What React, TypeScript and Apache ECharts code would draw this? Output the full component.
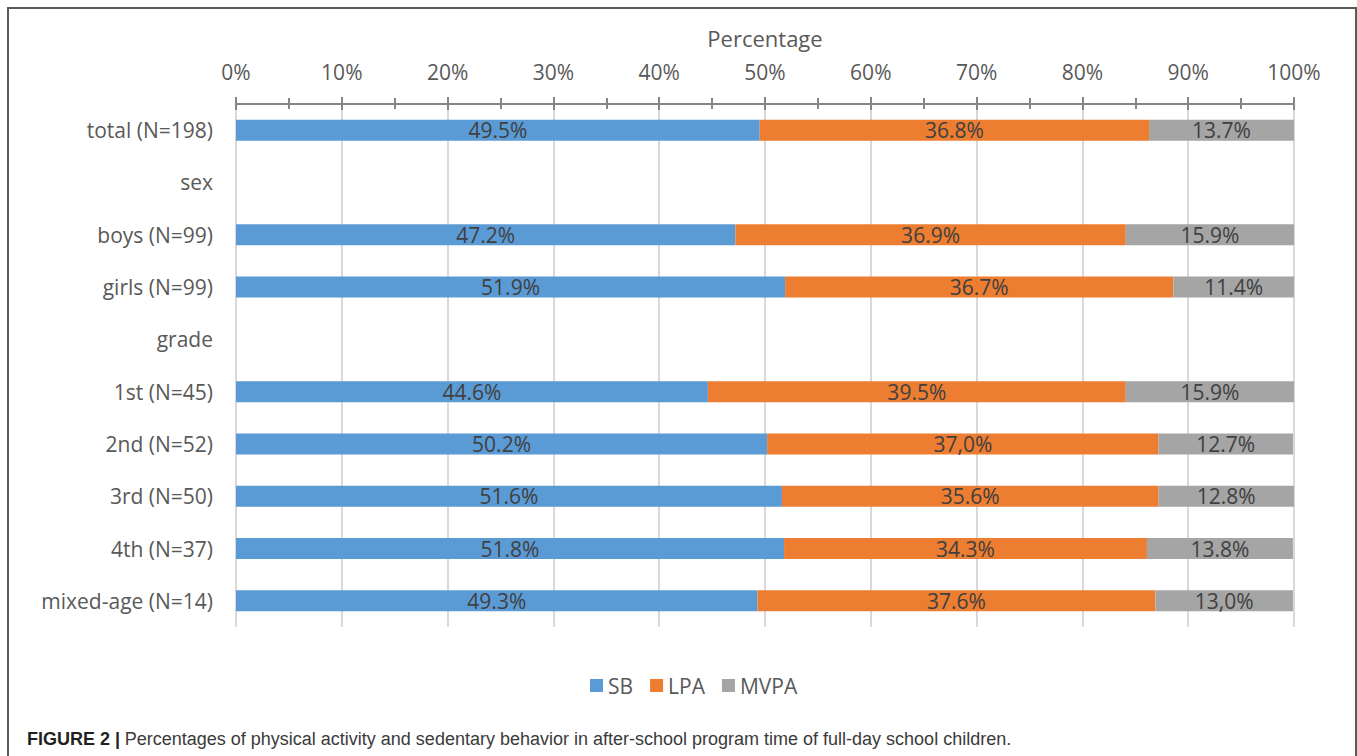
import React, { useEffect, useRef } from "react";
import * as echarts from "echarts";

const categories = [
  "total (N=198)",
  "sex",
  "boys (N=99)",
  "girls (N=99)",
  "grade",
  "1st (N=45)",
  "2nd (N=52)",
  "3rd (N=50)",
  "4th (N=37)",
  "mixed-age (N=14)",
];

const sbValues = [49.5, null, 47.2, 51.9, null, 44.6, 50.2, 51.6, 51.8, 49.3];
const lpaValues = [36.8, null, 36.9, 36.7, null, 39.5, 37.0, 35.6, 34.3, 37.6];
const mvpaValues = [13.7, null, 15.9, 11.4, null, 15.9, 12.7, 12.8, 13.8, 13.0];

const sbLabels = ["49.5%", "", "47.2%", "51.9%", "", "44.6%", "50.2%", "51.6%", "51.8%", "49.3%"];
const lpaLabels = ["36.8%", "", "36.9%", "36.7%", "", "39.5%", "37,0%", "35.6%", "34.3%", "37.6%"];
const mvpaLabels = ["13.7%", "", "15.9%", "11.4%", "", "15.9%", "12.7%", "12.8%", "13.8%", "13,0%"];

const seriesNames = ["SB", "LPA", "MVPA"];
const seriesColors = ["#5B9BD5", "#ED7D31", "#A5A5A5"];

const FONT = "'Open Sans', sans-serif";
const CAPTION_FONT = "'Liberation Sans', Arial, sans-serif";

export default function App() {
  const ref = useRef<HTMLDivElement>(null);

  useEffect(() => {
    if (!ref.current) return;
    const chart = echarts.init(ref.current, null, { renderer: "svg" });
    const values = [sbValues, lpaValues, mvpaValues];
    const labels = [sbLabels, lpaLabels, mvpaLabels];
    const axisBase = {
      type: "value" as const,
      position: "top" as const,
      min: 0,
      max: 100,
      interval: 10,
    };
    chart.setOption({
      animation: false,
      textStyle: { fontFamily: FONT },
      title: {
        left: 22,
        top: 725,
        text: "{b|FIGURE 2 |} {r|Percentages of physical activity and sedentary behavior in after-school program time of full-day school children.}",
        textStyle: {
          fontWeight: "normal",
          rich: {
            b: {
              fontFamily: CAPTION_FONT,
              fontWeight: "bold",
              fontSize: 18,
              color: "#231f20",
            },
            r: {
              fontFamily: CAPTION_FONT,
              fontWeight: "normal",
              fontSize: 18,
              color: "#3a3a3a",
            },
          },
        },
      },
      legend: {
        left: 585,
        top: 670,
        icon: "rect",
        itemWidth: 13,
        itemHeight: 13,
        itemGap: 17,
        itemTextGap: 7,
        textStyle: { fontSize: 21, color: "#595959", fontFamily: FONT },
        data: seriesNames,
      },
      grid: { left: 236, right: 63, top: 104, bottom: 129 },
      xAxis: [
        {
          ...axisBase,
          name: "Percentage",
          nameLocation: "middle",
          nameGap: 55,
          nameMoveOverlap: false,
          nameTextStyle: { fontSize: 22, color: "#595959", fontFamily: FONT },
          axisLabel: {
            formatter: "{value}%",
            fontSize: 21,
            color: "#595959",
            margin: 22,
            fontFamily: FONT,
          },
          axisLine: { show: true, lineStyle: { color: "#868686", width: 2 } },
          axisTick: { show: true, length: 7, lineStyle: { color: "#868686", width: 2 } },
          minorTick: { show: true, splitNumber: 2, length: 6, lineStyle: { color: "#868686", width: 2 } },
          splitLine: { show: true, lineStyle: { color: "#d9d9d9", width: 2 } },
        },
        {
          ...axisBase,
          axisLabel: { show: false },
          axisLine: { show: false },
          axisTick: { show: true, inside: true, length: 6, lineStyle: { color: "#868686", width: 2 } },
          minorTick: { show: true, splitNumber: 2, length: 5, lineStyle: { color: "#868686", width: 2 } },
          splitLine: { show: false },
        },
      ],
      yAxis: {
        type: "category",
        inverse: true,
        data: categories,
        axisLine: { show: false },
        axisTick: { show: false },
        axisLabel: { fontSize: 21, color: "#595959", margin: 23, fontFamily: FONT },
      },
      series: seriesNames.map((name, i) => ({
        name,
        type: "bar",
        stack: "total",
        xAxisIndex: 0,
        barWidth: 21,
        itemStyle: { color: seriesColors[i] },
        label: {
          show: true,
          position: "inside",
          fontSize: 21,
          color: "#404040",
          fontFamily: FONT,
          formatter: (p: any) => labels[i][p.dataIndex],
        },
        data: values[i],
      })),
    });
    return () => chart.dispose();
  }, []);

  return (
    <div>
      <div
        ref={ref}
        style={{ position: "fixed", left: 0, top: 0, width: 1357, height: 756, background: "#fff" }}
      />
      <div
        style={{
          position: "fixed",
          left: 7,
          top: 7,
          width: 1350,
          height: 770,
          border: "2px solid #5a5a5a",
          boxSizing: "border-box",
          pointerEvents: "none",
        }}
      />
    </div>
  );
}
